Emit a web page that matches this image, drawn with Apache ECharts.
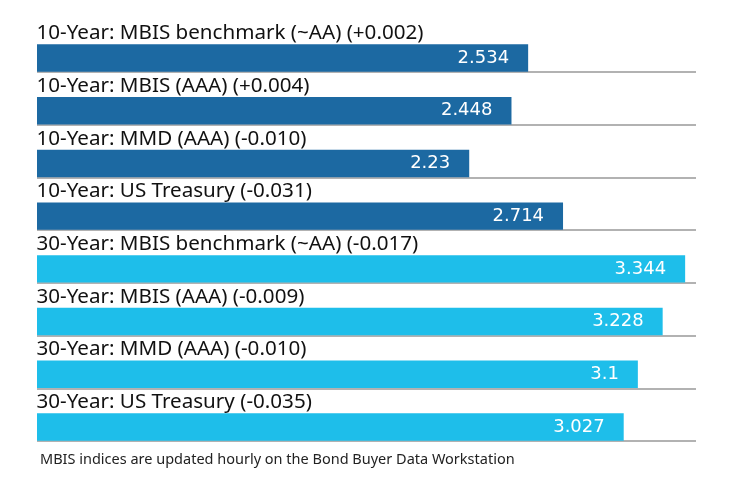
<!DOCTYPE html>
<html><head><meta charset="utf-8">
<script src="https://cdn.jsdelivr.net/npm/echarts@6/dist/echarts.min.js"></script>
<style>html,body{margin:0;padding:0;background:#fff}#c{width:740px;height:490px}</style>
</head><body><div id="c"></div>
<script>
const categories = [
  "10-Year: MBIS benchmark (~AA) (+0.002)",
  "10-Year: MBIS (AAA) (+0.004)",
  "10-Year: MMD (AAA) (-0.010)",
  "10-Year: US Treasury (-0.031)",
  "30-Year: MBIS benchmark (~AA) (-0.017)",
  "30-Year: MBIS (AAA) (-0.009)",
  "30-Year: MMD (AAA) (-0.010)",
  "30-Year: US Treasury (-0.035)"
];
const values = [2.534, 2.448, 2.23, 2.714, 3.344, 3.228, 3.1, 3.027];
const barColors = ["#1c69a2","#1c69a2","#1c69a2","#1c69a2","#1ebeea","#1ebeea","#1ebeea","#1ebeea"];
const footnote = "MBIS indices are updated hourly on the Bond Buyer Data Workstation";

const chart = echarts.init(document.getElementById('c'), null, {renderer: 'canvas'});
chart.setOption({
  animation: false,
  backgroundColor: '#fff',
  title: {
    text: footnote, left: 35, top: 447,
    textStyle: {fontFamily: 'Noto Sans', fontSize: 14.5, fontWeight: 'normal', color: '#222'}
  },
  grid: {left: 37, right: 44, top: 19.3, bottom: 49, containLabel: false},
  xAxis: {type: 'value', min: 0, max: 3.4, show: false},
  yAxis: {
    type: 'category', inverse: true, data: categories,
    axisLine: {show: false}, axisTick: {show: false}, axisLabel: {show: false},
    splitLine: {show: true, lineStyle: {color: '#999', width: 1.5},
      interval: function (i) { return i !== 0; }}
  },
  series: [
    {
      name: 'spacer', type: 'bar', barWidth: 24.7, barGap: 0,
      data: values, itemStyle: {color: 'rgba(0,0,0,0)'}, silent: true,
      label: {show: true, position: 'insideBottomLeft', distance: 0, offset: [-0.5, -0.5],
        formatter: '{b}', fontFamily: 'Noto Sans', fontSize: 20.6, color: '#111'}
    },
    {
      name: 'value', type: 'bar', barWidth: 27.4,
      data: values.map((v, i) => ({value: v, itemStyle: {color: barColors[i]}})),
      label: {show: true, position: 'insideRight', distance: 19,
        fontFamily: 'DejaVu Sans', fontSize: 18, color: '#fff'}
    }
  ]
});
</script></body></html>
